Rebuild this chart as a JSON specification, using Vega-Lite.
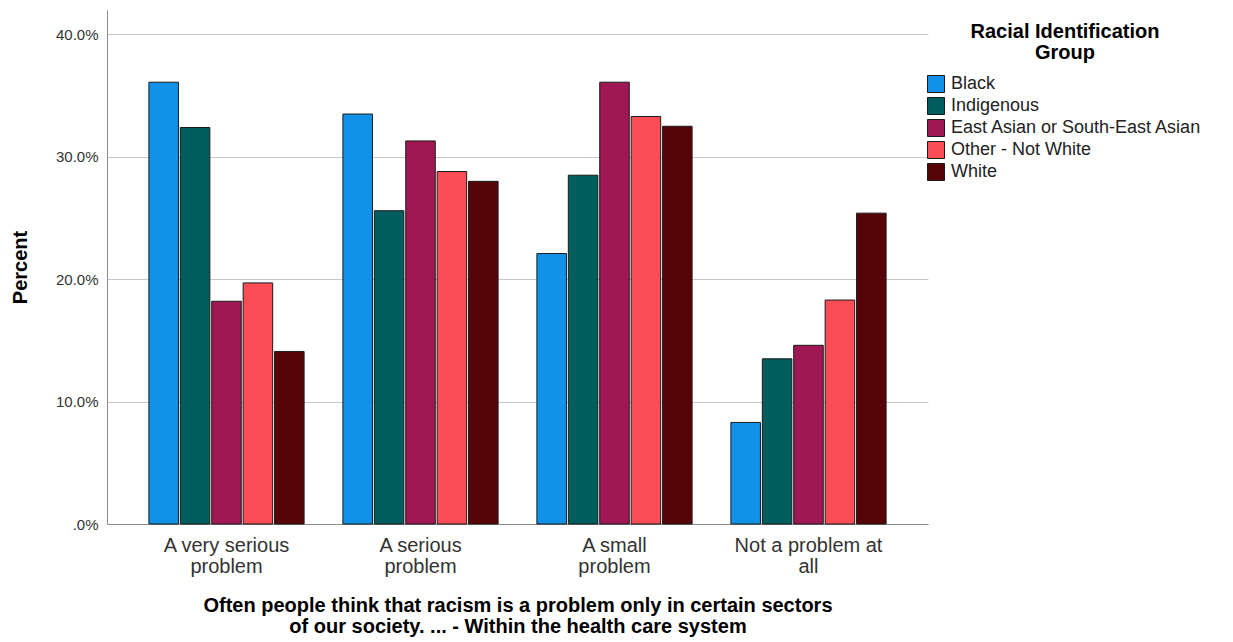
{
  "$schema": "https://vega.github.io/schema/vega-lite/v6.json",
  "width": 821,
  "height": 514,
  "autosize": "none",
  "padding": {"left": 107, "top": 10, "right": 305, "bottom": 118},
  "background": "white",
  "config": {"view": {"stroke": null}},
  "data": {"values": [
    {"problem": "A very serious problem", "group": "Black", "pct": 36.1},
    {"problem": "A very serious problem", "group": "Indigenous", "pct": 32.4},
    {"problem": "A very serious problem", "group": "East Asian or South-East Asian", "pct": 18.2},
    {"problem": "A very serious problem", "group": "Other - Not White", "pct": 19.7},
    {"problem": "A very serious problem", "group": "White", "pct": 14.1},
    {"problem": "A serious problem", "group": "Black", "pct": 33.5},
    {"problem": "A serious problem", "group": "Indigenous", "pct": 25.6},
    {"problem": "A serious problem", "group": "East Asian or South-East Asian", "pct": 31.3},
    {"problem": "A serious problem", "group": "Other - Not White", "pct": 28.8},
    {"problem": "A serious problem", "group": "White", "pct": 28.0},
    {"problem": "A small problem", "group": "Black", "pct": 22.1},
    {"problem": "A small problem", "group": "Indigenous", "pct": 28.5},
    {"problem": "A small problem", "group": "East Asian or South-East Asian", "pct": 36.1},
    {"problem": "A small problem", "group": "Other - Not White", "pct": 33.3},
    {"problem": "A small problem", "group": "White", "pct": 32.5},
    {"problem": "Not a problem at all", "group": "Black", "pct": 8.3},
    {"problem": "Not a problem at all", "group": "Indigenous", "pct": 13.5},
    {"problem": "Not a problem at all", "group": "East Asian or South-East Asian", "pct": 14.6},
    {"problem": "Not a problem at all", "group": "Other - Not White", "pct": 18.3},
    {"problem": "Not a problem at all", "group": "White", "pct": 25.4}
  ]},
  "mark": {"type": "bar", "stroke": "#1a1a1a", "strokeWidth": 1},
  "encoding": {
    "x": {
      "field": "problem", "type": "nominal",
      "sort": ["A very serious problem", "A serious problem", "A small problem", "Not a problem at all"],
      "scale": {"paddingInner": 0.2, "paddingOuter": 0.216},
      "axis": {
        "labelAngle": 0,
        "labelExpr": "datum.value == 'A very serious problem' ? ['A very serious','problem'] : datum.value == 'A serious problem' ? ['A serious','problem'] : datum.value == 'A small problem' ? ['A small','problem'] : ['Not a problem at','all']",
        "labelFont": "Liberation Sans",
        "labelFontSize": 20,
        "labelColor": "#333333",
        "labelLineHeight": 21,
        "labelPadding": 11,
        "ticks": false,
        "domainColor": "#8c8c8c",
        "title": ["Often people think that racism is a problem only in certain sectors", "of our society. ... - Within the health care system"],
        "titleFont": "Liberation Sans",
        "titleFontSize": 20,
        "titleFontWeight": "bold",
        "titleColor": "#000000",
        "titleLineHeight": 21,
        "titlePadding": 19
      }
    },
    "xOffset": {
      "field": "group", "type": "nominal",
      "sort": ["Black", "Indigenous", "East Asian or South-East Asian", "Other - Not White", "White"],
      "scale": {"paddingInner": 0.06, "paddingOuter": 0}
    },
    "y": {
      "field": "pct", "type": "quantitative",
      "scale": {"domain": [0, 42], "nice": false},
      "axis": {
        "values": [0, 10, 20, 30, 40],
        "labelExpr": "datum.value == 0 ? '.0%' : format(datum.value, '.1f') + '%'",
        "labelFont": "Liberation Sans",
        "labelFontSize": 15,
        "labelColor": "#333333",
        "labelPadding": 9,
        "ticks": false,
        "domainColor": "#8c8c8c",
        "gridColor": "#c8c8c8",
        "title": "Percent",
        "titleFont": "Liberation Sans",
        "titleFontSize": 20,
        "titleFontWeight": "bold",
        "titleColor": "#000000",
        "titlePadding": 25
      }
    },
    "color": {
      "field": "group", "type": "nominal",
      "sort": ["Black", "Indigenous", "East Asian or South-East Asian", "Other - Not White", "White"],
      "scale": {
        "domain": ["Black", "Indigenous", "East Asian or South-East Asian", "Other - Not White", "White"],
        "range": ["#1192E8", "#005D5D", "#9F1853", "#FA4D56", "#570408"]
      },
      "legend": {
        "orient": "none",
        "legendX": 820,
        "legendY": 12,
        "title": ["Racial Identification", "Group"],
        "titleFont": "Liberation Sans",
        "titleFontSize": 20,
        "titleFontWeight": "bold",
        "titleColor": "#000000",
        "titleAnchor": "middle",
        "titleAlign": "center",
        "titleLineHeight": 21,
        "titleLimit": 400,
        "titlePadding": 12,
        "labelFont": "Liberation Sans",
        "labelFontSize": 18,
        "labelColor": "#222222",
        "labelOffset": 6,
        "labelLimit": 400,
        "symbolType": "square",
        "symbolSize": 289,
        "symbolStrokeColor": "#1a1a1a",
        "symbolStrokeWidth": 1,
        "rowPadding": 0
      }
    }
  }
}
